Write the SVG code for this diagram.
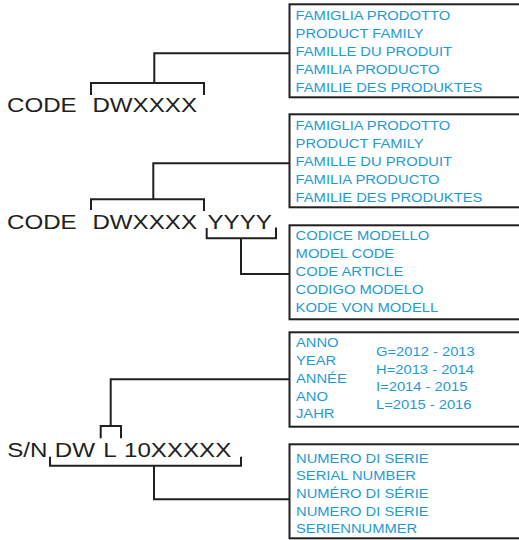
<svg xmlns="http://www.w3.org/2000/svg" width="519" height="540" viewBox="0 0 519 540">
<style>
.big{font-family:"Liberation Sans",Arial,sans-serif;font-size:21px;fill:#231f20}
.sm{font-family:"Liberation Sans",Arial,sans-serif;font-size:13px;fill:#1e9ad6}
.box{fill:#fff;stroke:#231f20;stroke-width:2}
.ln{fill:none;stroke:#231f20;stroke-width:2;stroke-linejoin:miter;stroke-linecap:butt}
</style>
<rect width="519" height="540" fill="#fff"/>
<g id="connectors">
<path class="ln" d="M91,95 V83 H204 V95"/>
<path class="ln" d="M154.3,83 V53.3 H289.5"/>
<path class="ln" d="M91,210 V199.3 H204 V211"/>
<path class="ln" d="M153.3,199.3 V163.3 H289.5"/>
<path class="ln" d="M206.7,228 V238.3 H276 V227.5"/>
<path class="ln" d="M241,238.3 V274 H289.5"/>
<path class="ln" d="M100.7,438.3 V426 H121 V438.3"/>
<path class="ln" d="M110.7,426 V379.3 H289.5"/>
<path class="ln" d="M50,456.7 V465.7 H241 V456.7"/>
<path class="ln" d="M154,465.7 V499.3 H289.5"/>
</g>
<g id="code1">
<text class="big" transform="translate(7,111.7) scale(1.15,1)">CODE</text>
<text class="big" transform="translate(92.4,111.7) scale(1.15,1)">DWXXXX</text>
</g>
<g id="code2">
<text class="big" transform="translate(7,229.3) scale(1.15,1)">CODE</text>
<text class="big" transform="translate(92.4,229.3) scale(1.15,1)">DWXXXX</text>
<text class="big" transform="translate(207.5,229.3) scale(1.15,1)">YYYY</text>
</g>
<g id="serial">
<text class="big" transform="translate(7.2,456.7) scale(1.15,1)">S/N</text>
<text class="big" transform="translate(54.8,456.7) scale(1.15,1)">DW</text>
<text class="big" transform="translate(103.2,456.7) scale(1.15,1)">L</text>
<text class="big" transform="translate(124,456.7) scale(1.15,1)">10XXXXX</text>
</g>
<g id="box1">
<rect class="box" x="289.5" y="4.3" width="240" height="93"/>
<g transform="translate(295.6,0) scale(1.135,1)">
<text class="sm" y="20">FAMIGLIA PRODOTTO</text>
<text class="sm" y="37.9">PRODUCT FAMILY</text>
<text class="sm" y="55.8">FAMILLE DU PRODUIT</text>
<text class="sm" y="73.8">FAMILIA PRODUCTO</text>
<text class="sm" y="91.7">FAMILIE DES PRODUKTES</text>
</g>
</g>
<g id="box2">
<rect class="box" x="289.5" y="114.3" width="240" height="93"/>
<g transform="translate(295.6,0) scale(1.135,1)">
<text class="sm" y="130">FAMIGLIA PRODOTTO</text>
<text class="sm" y="147.9">PRODUCT FAMILY</text>
<text class="sm" y="165.8">FAMILLE DU PRODUIT</text>
<text class="sm" y="183.8">FAMILIA PRODUCTO</text>
<text class="sm" y="201.7">FAMILIE DES PRODUKTES</text>
</g>
</g>
<g id="box3">
<rect class="box" x="289.5" y="225.3" width="240" height="94"/>
<g transform="translate(295.6,0) scale(1.135,1)">
<text class="sm" y="240">CODICE MODELLO</text>
<text class="sm" y="257.9">MODEL CODE</text>
<text class="sm" y="275.8">CODE ARTICLE</text>
<text class="sm" y="293.8">CODIGO MODELO</text>
<text class="sm" y="311.7">KODE VON MODELL</text>
</g>
</g>
<g id="box4">
<rect class="box" x="289.5" y="332.3" width="240" height="94.4"/>
<g transform="translate(296,0) scale(1.135,1)">
<text class="sm" y="347.5">ANNO</text>
<text class="sm" y="365.2">YEAR</text>
<text class="sm" y="382.9">ANNÉE</text>
<text class="sm" y="400.6">ANO</text>
<text class="sm" y="418.3">JAHR</text>
</g>
<g transform="translate(376,0) scale(1.135,1)">
<text class="sm" y="355.8">G=2012 - 2013</text>
<text class="sm" y="373.7">H=2013 - 2014</text>
<text class="sm" y="391.5">I=2014 - 2015</text>
<text class="sm" y="409.3">L=2015 - 2016</text>
</g>
</g>
<g id="box5">
<rect class="box" x="289.5" y="444.3" width="240" height="94"/>
<g transform="translate(296,0) scale(1.135,1)">
<text class="sm" y="462.7">NUMERO DI SERIE</text>
<text class="sm" y="480.4">SERIAL NUMBER</text>
<text class="sm" y="498">NUMÉRO DI SÉRIE</text>
<text class="sm" y="515.7">NUMERO DI SERIE</text>
<text class="sm" y="533.3">SERIENNUMMER</text>
</g>
</g>
</svg>
